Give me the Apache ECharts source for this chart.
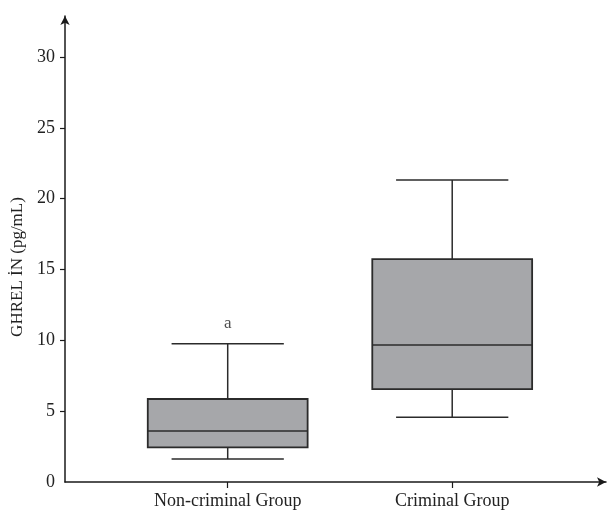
<!DOCTYPE html>
<html>
<head>
<meta charset="utf-8">
<script src="https://cdn.jsdelivr.net/npm/echarts@6/dist/echarts.min.js"></script>
<style>html,body{margin:0;padding:0;background:#fff}#c{width:610px;height:515px}</style>
</head>
<body>
<div id="c"></div>
<script>
var categories = ['Non-criminal Group', 'Criminal Group'];
var whiskerLow = [1.62, 4.57];
var q1 = [2.45, 6.56];
var median = [3.6, 9.67];
var q3 = [5.86, 15.74];
var whiskerHigh = [9.76, 21.33];
var yTicks = [0, 5, 10, 15, 20, 25, 30];
var annotations = [{ group: 0, value: 11.2, text: 'a' }];

var FONT = "'Liberation Serif', 'Times New Roman', serif";
var boxData = categories.map(function (c, i) {
  return [i + 1, whiskerLow[i], q1[i], median[i], q3[i], whiskerHigh[i]];
});
var HALF_BOX = 0.356, HALF_CAP = 0.25;

var chart = echarts.init(document.getElementById('c'));
chart.setOption({
  animation: false,
  grid: { left: 65, right: 4, top: 16, bottom: 33 },
  xAxis: {
    type: 'value', min: 0.2753, max: 2.685,
    splitLine: { show: false },
    axisLine: { lineStyle: { color: '#1a1a1a', width: 1.5 }, symbol: ['none', 'arrow'], symbolSize: [7, 9] },
    axisTick: { show: true, length: 6, customValues: [1, 2], lineStyle: { color: '#1a1a1a', width: 1.2 } },
    axisLabel: {
      customValues: [1, 2], margin: 10,
      formatter: function (v) { return categories[Math.round(v) - 1] || ''; },
      fontFamily: FONT, fontSize: 18, color: '#222'
    }
  },
  yAxis: {
    type: 'value', min: 0, max: 32.9,
    name: 'GHREL İN (pg/mL)', nameLocation: 'middle', nameGap: 38,
    nameTextStyle: { fontFamily: FONT, fontSize: 17, color: '#222', padding: [0, 36, 0, 0] },
    splitLine: { show: false },
    axisLine: { lineStyle: { color: '#1a1a1a', width: 1.5 }, symbol: ['none', 'arrow'], symbolSize: [7, 9] },
    axisTick: { show: true, length: 5, customValues: [5, 10, 15, 20, 25, 30], lineStyle: { color: '#1a1a1a', width: 1.2 } },
    axisLabel: { customValues: yTicks, margin: 10, fontFamily: FONT, fontSize: 18, color: '#222' }
  },
  series: [{
    type: 'custom',
    data: boxData,
    encode: { x: 0, y: [1, 2, 3, 4, 5] },
    renderItem: function (params, api) {
      var x = api.value(0);
      var lo = api.value(1), a = api.value(2), m = api.value(3), b = api.value(4), hi = api.value(5);
      var pL = api.coord([x - HALF_BOX, a]), pR = api.coord([x + HALF_BOX, b]);
      var cL = api.coord([x - HALF_CAP, lo]), cR = api.coord([x + HALF_CAP, lo]);
      var hL = api.coord([x - HALF_CAP, hi]), hR = api.coord([x + HALF_CAP, hi]);
      var mid = api.coord([x, m]);
      var cx = api.coord([x, a])[0];
      var yA = api.coord([x, a])[1], yB = api.coord([x, b])[1];
      var stroke = { stroke: '#2b2b2b', lineWidth: 1.5, fill: null };
      return {
        type: 'group',
        children: [
          { type: 'line', shape: { x1: cx, y1: yA, x2: cx, y2: cL[1] }, style: stroke },
          { type: 'line', shape: { x1: cx, y1: yB, x2: cx, y2: hL[1] }, style: stroke },
          { type: 'line', shape: { x1: cL[0], y1: cL[1], x2: cR[0], y2: cR[1] }, style: stroke },
          { type: 'line', shape: { x1: hL[0], y1: hL[1], x2: hR[0], y2: hR[1] }, style: stroke },
          { type: 'rect', shape: { x: pL[0], y: yB, width: pR[0] - pL[0], height: yA - yB },
            style: { fill: '#a6a7aa', stroke: '#2b2b2b', lineWidth: 1.8 } },
          { type: 'line', shape: { x1: pL[0], y1: mid[1], x2: pR[0], y2: mid[1] }, style: stroke }
        ]
      };
    }
  }, {
    type: 'scatter',
    symbolSize: 0,
    data: annotations.map(function (d) { return { value: [d.group + 1, d.value], text: d.text }; }),
    label: {
      show: true, position: 'inside',
      formatter: function (p) { return p.data.text; },
      fontFamily: FONT, fontSize: 17, color: '#222'
    }
  }]
});
</script>
</body>
</html>
